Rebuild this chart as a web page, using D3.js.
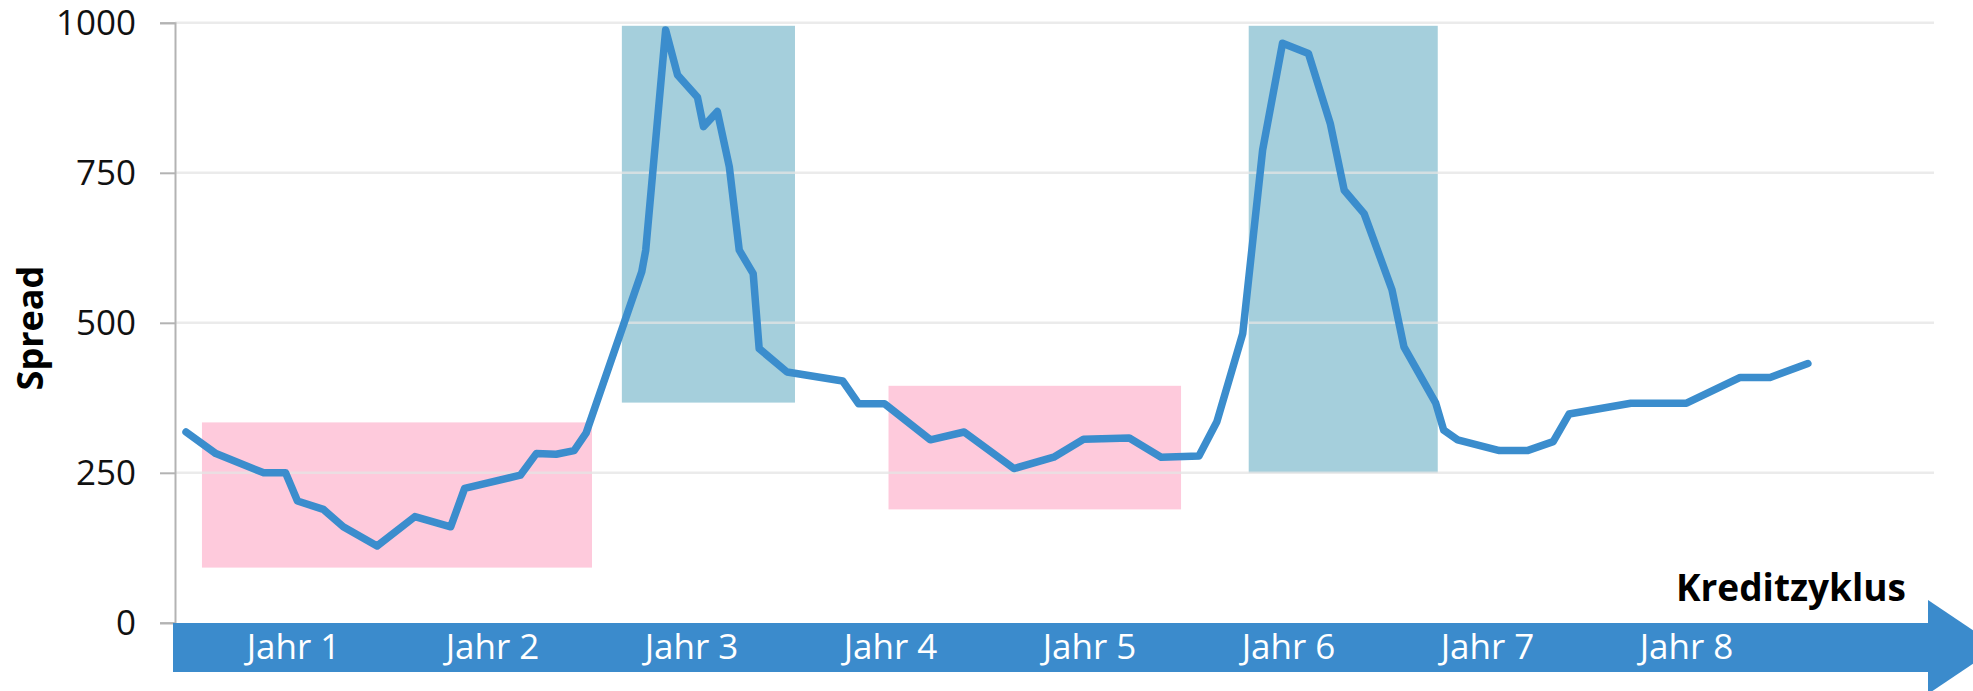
<!DOCTYPE html>
<html lang="de">
  <head>
    <meta charset="UTF-8" />
    <title>Kreditzyklus</title>
    <script src="https://d3js.org/d3.v7.min.js"></script>
    <style>
      body { margin: 0; background: #fff; }
      text { font-family: "Open Sans", sans-serif; }
    </style>
  </head>
  <body>
    <svg id="chart" width="1973" height="691"></svg>
    <script>
      // time in years since start of cycle, spread in bp
      const years = [
        -0.04, 0.11, 0.35, 0.46, 0.52, 0.65, 0.75, 0.92, 1.11, 1.29, 1.36,
        1.64, 1.72, 1.82, 1.91, 1.97, 2.25, 2.27, 2.37, 2.43, 2.53, 2.56,
        2.63, 2.69, 2.74, 2.81, 2.84, 2.98, 3.26, 3.34, 3.47, 3.70, 3.87,
        4.12, 4.32, 4.47, 4.70, 4.86, 5.05, 5.14, 5.27, 5.37, 5.47, 5.60,
        5.71, 5.78, 5.88, 6.02, 6.08, 6.24, 6.28, 6.35, 6.56, 6.70, 6.83,
        6.91, 7.22, 7.50, 7.77, 7.92, 8.11
      ];
      const spread = [
        318, 282, 250, 250, 203, 189, 160, 128, 177, 160, 224,
        246, 282, 281, 287, 316, 585, 621, 988, 913, 876, 827,
        852, 760, 621, 582, 457, 418, 403, 365, 365, 305, 318,
        257, 276, 306, 308, 276, 278, 335, 482, 788, 966, 949,
        832, 721, 682, 555, 460, 366, 321, 305, 287, 287, 302,
        348, 366, 366, 409, 409, 432
      ];

      // shaded phases: [start year, end year, low, high]
      const phaseStart = [0.04, 2.15, 3.49, 5.30];
      const phaseEnd = [2.00, 3.02, 4.96, 6.25];
      const phaseLow = [92, 367, 189, 250];
      const phaseHigh = [334, 995, 395, 995];
      const phaseType = ["calm", "stress", "calm", "stress"];

      const yearLabels = ["Jahr 1", "Jahr 2", "Jahr 3", "Jahr 4", "Jahr 5", "Jahr 6", "Jahr 7", "Jahr 8"];
      const yTicks = [0, 250, 500, 750, 1000];

      const svg = d3.select("#chart");
      const lineBlue = "#3b8dcd";

      const x = d3.scaleLinear().domain([0, 8]).range([194, 1786]);
      const y = d3.scaleLinear().domain([0, 1000]).range([622.8, 22.8]);
      const axisX = 175;
      const gridRight = 1934;

      // phase boxes
      svg.append("g")
        .selectAll("rect")
        .data(phaseStart)
        .join("rect")
        .attr("x", (d) => x(d))
        .attr("width", (d, i) => x(phaseEnd[i]) - x(d))
        .attr("y", (d, i) => y(phaseHigh[i]))
        .attr("height", (d, i) => y(phaseLow[i]) - y(phaseHigh[i]))
        .attr("fill", (d, i) => phaseType[i] === "calm" ? "#fecadc" : "#a5cfdc");

      // grid lines
      svg.append("g")
        .selectAll("line")
        .data(yTicks.filter((d) => d > 0))
        .join("line")
        .attr("x1", axisX)
        .attr("x2", gridRight)
        .attr("y1", (d) => y(d))
        .attr("y2", (d) => y(d))
        .attr("stroke", "#e4e4e4")
        .attr("stroke-opacity", 0.75)
        .attr("stroke-width", 2.5);

      // y axis
      const yAxis = svg.append("g")
        .attr("transform", "translate(" + axisX + ",0)")
        .call(d3.axisLeft(y).tickValues(yTicks).tickSize(15).tickPadding(24).tickFormat(d3.format("d")));
      yAxis.select(".domain").attr("stroke", "#b3b3b3").attr("stroke-width", 2);
      yAxis.selectAll(".tick line").attr("stroke", "#b3b3b3").attr("stroke-width", 2);
      yAxis.selectAll(".tick text")
        .attr("fill", "#111")
        .style("font-size", "35px")
        .style("font-family", "'Open Sans', sans-serif");

      // time arrow
      svg.append("rect")
        .attr("x", 173).attr("y", 623)
        .attr("width", 1928 - 173).attr("height", 49)
        .attr("fill", "#3b8bcc");
      svg.append("path")
        .attr("d", "M1928,600 L1998,647 L1928,694 Z")
        .attr("fill", "#3b8bcc");

      svg.append("g")
        .selectAll("text")
        .data(yearLabels)
        .join("text")
        .attr("x", (d, i) => x(i + 0.5))
        .attr("y", 659)
        .attr("text-anchor", "middle")
        .attr("fill", "#fff")
        .style("font-size", "35px")
        .text((d) => d);

      // spread line
      const line = d3.line()
        .x((d) => x(d[0]))
        .y((d) => y(d[1]));
      svg.append("path")
        .datum(d3.zip(years, spread))
        .attr("d", line)
        .attr("fill", "none")
        .attr("stroke", lineBlue)
        .attr("stroke-width", 7.5)
        .attr("stroke-linejoin", "round")
        .attr("stroke-linecap", "round");

      // axis titles
      svg.append("text")
        .attr("transform", "translate(43,328) rotate(-90)")
        .attr("text-anchor", "middle")
        .style("font-size", "36px")
        .style("font-weight", "bold")
        .text("Spread");

      svg.append("text")
        .attr("x", 1906)
        .attr("y", 601)
        .attr("text-anchor", "end")
        .style("font-size", "37px")
        .style("font-weight", "bold")
        .text("Kreditzyklus");
    </script>
  </body>
</html>
